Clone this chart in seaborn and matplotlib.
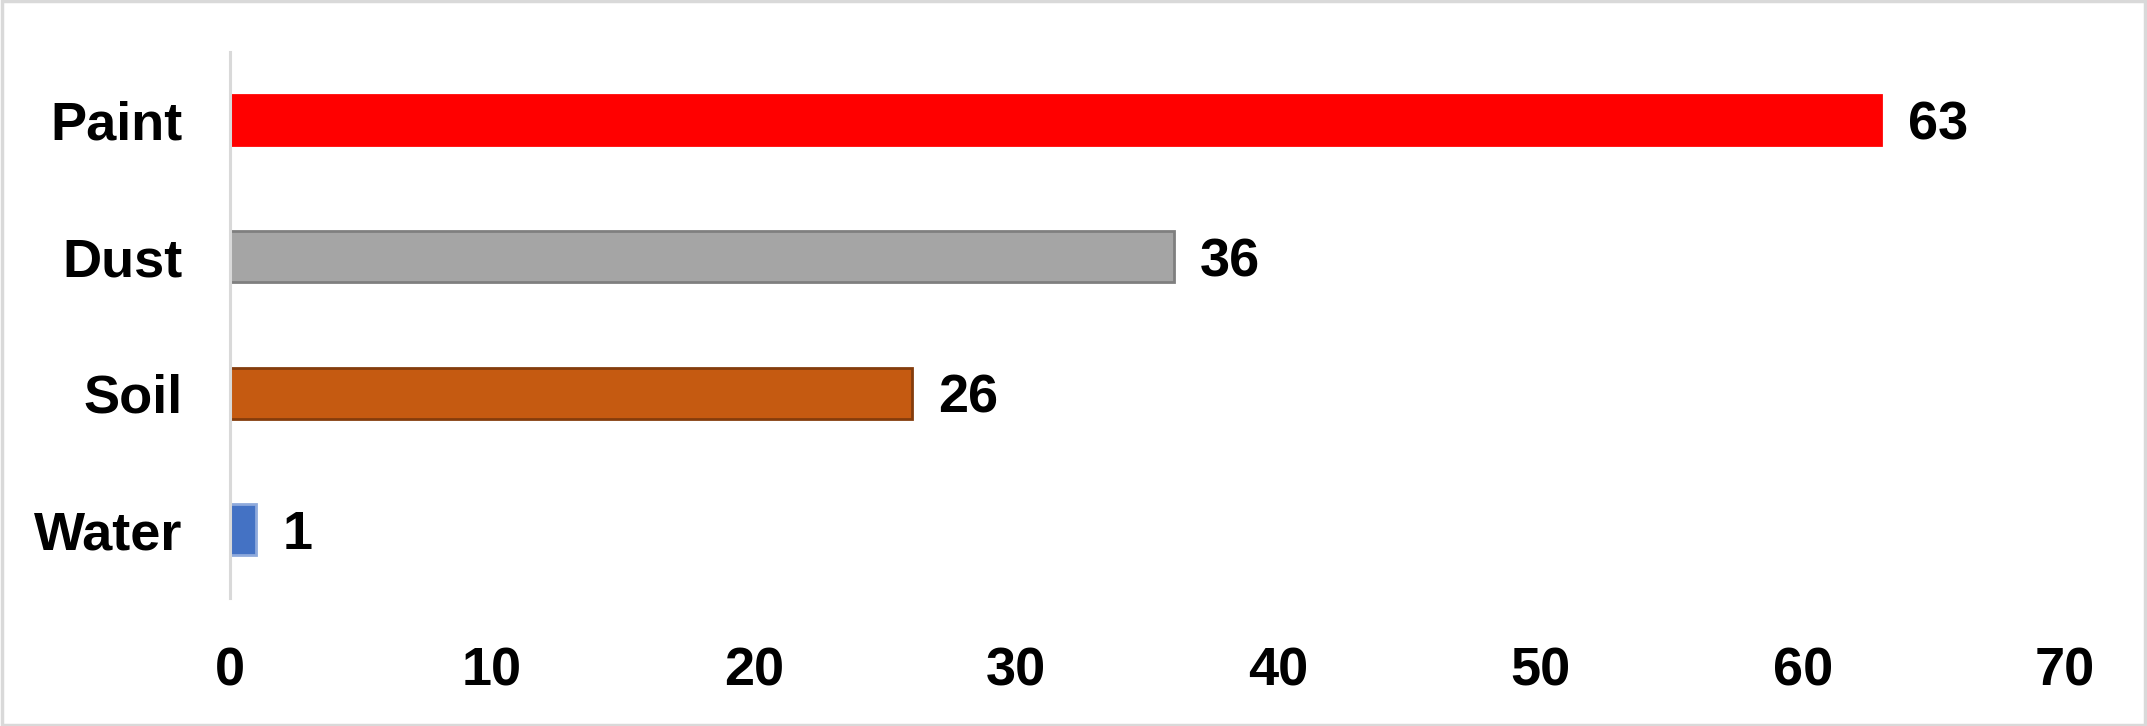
import matplotlib
matplotlib.use("Agg")
import matplotlib.pyplot as plt
import pandas as pd
import seaborn as sns
from matplotlib.patches import Rectangle

# data
sources = ["Paint", "Dust", "Soil", "Water"]
values = [63, 36, 26, 1]
fill_colors = ["#FF0000", "#A5A5A5", "#C55A11", "#4472C4"]
edge_colors = ["#FF0000", "#7F7F7F", "#843C0C", "#8FAADC"]
x_ticks = [0, 10, 20, 30, 40, 50, 60, 70]

df = pd.DataFrame({"source": sources, "value": values})

sns.set_style("white")
plt.rcParams["font.family"] = ["Liberation Sans", "DejaVu Sans"]
plt.rcParams["font.weight"] = "bold"

fig = plt.figure(figsize=(21.47, 7.26), dpi=100)
ax = fig.add_axes([0.1071, 0.1763, 0.9618 - 0.1071, 0.9284 - 0.1763])

sns.barplot(data=df, y="source", x="value", hue="source", order=sources,
            hue_order=sources, palette=dict(zip(sources, fill_colors)),
            saturation=1, width=0.37, legend=False, ax=ax, orient="h")

# per-bar outlines and value labels
for container, ec in zip(ax.containers, edge_colors):
    for bar in container:
        bar.set_edgecolor(ec)
        bar.set_linewidth(2.0)
    labels = ax.bar_label(container, padding=19, fontsize=39, fontweight="bold", color="black")
    for t in labels:
        t.set_va("center_baseline")

ax.set_xlim(0, 70)
ax.set_ylim(3.5, -0.5)
ax.set_xticks(x_ticks)
ax.set_xlabel("")
ax.set_ylabel("")
ax.tick_params(axis="y", length=0, pad=34, labelsize=39, labelcolor="black")
ax.tick_params(axis="x", length=0, pad=35, labelsize=39, labelcolor="black")
for lab in ax.get_xticklabels() + ax.get_yticklabels():
    lab.set_fontweight("bold")

for side in ["top", "right", "bottom"]:
    ax.spines[side].set_visible(False)
ax.spines["left"].set_color("#D9D9D9")
ax.spines["left"].set_linewidth(2.2)
ax.grid(False)

# light grey frame around the whole chart
fig.patches.append(Rectangle((0.0007, 0.002), 0.9986, 0.996, transform=fig.transFigure,
                             fill=False, edgecolor="#D9D9D9", linewidth=2.5))

fig.savefig("out.png", dpi=100)
